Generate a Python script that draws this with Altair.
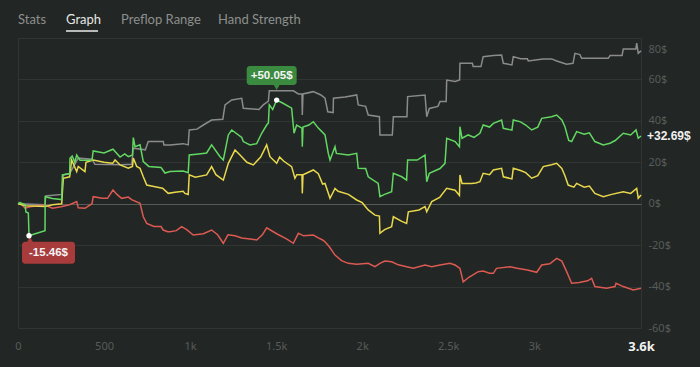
import altair as alt
import pandas as pd

# ---------------- data (hands, dollars) ----------------
gray_h = [0, 157, 161, 254, 263, 300, 350, 430, 447, 600, 661, 670, 740, 757, 844, 848, 883, 960, 989, 995,
          1040, 1077, 1125, 1190, 1203, 1242, 1300, 1309, 1400, 1425, 1455, 1460, 1600, 1629, 1650, 1652, 1656,
          1716, 1760, 1784, 1800, 1831, 1833, 1900, 1968, 1977, 2020, 2035, 2100, 2103, 2175, 2181, 2260, 2264,
          2365, 2375, 2390, 2440, 2452, 2488, 2491, 2540, 2566, 2568, 2640, 2645, 2690, 2703, 2762, 2810, 2820,
          2870, 2878, 2920, 2960, 2965, 3050, 3101, 3130, 3188, 3225, 3236, 3265, 3275, 3430, 3440, 3510, 3517,
          3590, 3595, 3604, 3620]
gray_v = [0, -0.5, 3.7, 4.5, 13.9, 14.5, 22, 21.5, 19, 18.8, 19, 26.8, 26, 30, 30, 28.4, 28.4, 29, 28.4, 35.6,
          36, 38, 40.4, 40.8, 47.7, 50.1, 50.9, 46.1, 45.5, 47.7, 49.5, 54.5, 54.5, 53, 53, 42.8, 53,
          54.1, 52.5, 50.9, 44.4, 44, 50.9, 51.5, 52.5, 47.7, 47, 42.8, 42, 33.2, 33.2, 42, 42, 51.7,
          52.5, 42, 46, 47, 49.3, 49.3, 59.7, 59, 59.7, 67.8, 67.8, 66.2, 66.2, 71, 71.5, 71.8, 67.8,
          67, 71, 70, 70, 68.9, 69.9, 69.9, 68.9, 67.3, 67.8, 72.6, 72, 70.2, 70.2, 71.5, 71.5, 74.7,
          74.7, 77.5, 72.6, 73.8]

green_h = [0, 12, 41, 46, 60, 64, 100, 157, 158, 200, 254, 258, 290, 300, 302, 315, 330, 341, 360, 430, 437,
           500, 552, 593, 620, 641, 665, 670, 680, 709, 728, 760, 831, 854, 883, 960, 989, 995, 1050, 1096,
           1125, 1174, 1193, 1222, 1242, 1300, 1309, 1348, 1387, 1416, 1445, 1455, 1460, 1480, 1503, 1540,
           1590, 1604, 1619, 1650, 1652, 1656, 1690, 1716, 1745, 1784, 1803, 1813, 1842, 1850, 1919, 1968,
           1977, 2020, 2035, 2093, 2103, 2130, 2171, 2181, 2230, 2258, 2264, 2320, 2365, 2375, 2390, 2452,
           2481, 2491, 2540, 2565, 2568, 2580, 2616, 2650, 2684, 2703, 2740, 2762, 2810, 2820, 2870, 2878,
           2920, 2950, 2985, 3020, 3043, 3100, 3130, 3160, 3178, 3191, 3200, 3217, 3246, 3290, 3320, 3352,
           3401, 3440, 3470, 3517, 3560, 3591, 3604, 3620]
green_v = [0, 0.5, -0.5, -4, -4.5, -15.46, -14.5, -13, 3.4, 2.5, 2, 13.9, 14.5, 14.3, 21.9, 23, 20, 23.5, 21, 21, 25.5,
           24.5, 26.3, 22.5, 24, 22.7, 23.5, 31.9, 27.5, 28.4, 20.3, 18, 17.5, 14.8, 15.5, 15.8, 15, 23.5, 24, 24.5,
           28.4, 22.7, 21.1, 33.2, 35.6, 32, 30, 28.4, 29, 34, 38, 39, 47.7, 45.5, 50.05, 48.5,
           46.1, 34, 38, 36.5, 27.5, 37, 38, 39.6, 36.5, 33.2, 24.3, 21.1, 27.5, 24.3, 23.5, 24.3,
           17.1, 17, 13, 9.8, 3.4, 4.5, 5.8, 14.7, 13, 11.4, 21.1, 21.1, 23.5, 10.6, 14.7, 17,
           19.5, 31.6, 30, 27.5, 37.2, 31.6, 33.2, 32, 34, 38, 37, 38.8, 40.4, 36.4, 35.5, 40.4,
           39.5, 38, 35.6, 37, 41.2, 42, 42.8, 40.4, 37.2, 33.2, 30.5, 30, 34.8, 33.5, 34.2, 30,
           28.4, 29.2, 30.5, 34, 33.2, 35.6, 31.6, 32.69]

yellow_h = [0, 46, 157, 200, 254, 263, 300, 312, 341, 350, 389, 395, 437, 500, 550, 564, 593, 641, 665, 670, 690,
            709, 728, 748, 796, 840, 873, 912, 960, 970, 989, 995, 1030, 1096, 1125, 1150, 1193, 1222, 1240, 1261,
            1290, 1330, 1367, 1410, 1445, 1464, 1503, 1520, 1545, 1590, 1609, 1620, 1650, 1652, 1656, 1716, 1745,
            1770, 1784, 1813, 1842, 1860, 1920, 1968, 2000, 2035, 2074, 2100, 2103, 2130, 2171, 2181, 2230, 2258,
            2268, 2330, 2365, 2375, 2404, 2450, 2491, 2540, 2565, 2568, 2580, 2636, 2660, 2684, 2703, 2740, 2762,
            2810, 2820, 2870, 2878, 2920, 2950, 2985, 3020, 3052, 3100, 3130, 3160, 3178, 3197, 3230, 3246, 3290,
            3320, 3352, 3401, 3450, 3517, 3560, 3595, 3604, 3620]
yellow_v = [0, -1, -1.4, -0.5, 0, 12.3, 13, 21.1, 15.5, 18, 15.5, 20, 21.1, 20, 19.5, 21.1, 18.7, 17.1, 18, 22, 18,
            17.1, 13, 9, 8.2, 7.5, 5, 5.5, 6, 5, 4.5, 13.9, 12.8, 13.9, 17.9, 14, 11.4, 19.5, 22.5, 25.9,
            23.5, 20, 18.7, 22.5, 28.4, 22.7, 19.5, 22.5, 20.5, 17.9, 12.3, 14, 14, 5, 14, 16.3, 14.5,
            9.5, 9.8, 2.6, 7.4, 6, 4.5, 1.8, 0.5, -3, -5.5, -6, -14.3, -12.5, -11.1, -6.3, -8.5, -9.5,
            -3.9, -3, -1.4, -3.9, 1, 3, 7.4, 6.5, 4, 13.9, 9.8, 9.8, 10, 10.6, 14.7, 14, 16.3,
            17.1, 13, 12, 17.1, 16, 15, 12.3, 13.5, 17.9, 18.8, 19.5, 17, 13.5, 9, 8, 9.8, 8,
            8.5, 5, 3.4, 4.5, 5.8, 5, 7.4, 2.6, 4.2]

red_h = [0, 12, 41, 70, 157, 200, 250, 300, 341, 350, 389, 430, 437, 490, 520, 552, 575, 602, 641, 660, 709, 728,
         748, 790, 831, 844, 870, 883, 920, 951, 980, 1018, 1077, 1125, 1160, 1193, 1220, 1261, 1300, 1387, 1420,
         1445, 1503, 1560, 1600, 1629, 1660, 1716, 1745, 1770, 1784, 1809, 1842, 1880, 1919, 1968, 2035, 2074,
         2103, 2132, 2171, 2210, 2258, 2297, 2365, 2404, 2452, 2510, 2540, 2568, 2587, 2620, 2674, 2703, 2740,
         2762, 2780, 2859, 2900, 2960, 3014, 3043, 3090, 3130, 3160, 3188, 3217, 3260, 3310, 3333, 3352, 3420,
         3469, 3475, 3517, 3575, 3620]
red_v = [0, 0.5, -2.2, -1.5, -0.6, -2.2, -1.5, -0.5, 1, -2, -2.2, 0, 3.4, 2.6, 2.6, 6.6, 4.5, 2.6, 3.2, 2, 0.2, -6.3,
         -9.5, -11, -11, -12.7, -13.5, -13.5, -13, -11.1, -12.5, -15.1, -14.5, -12.7, -15, -19.1, -15, -15.5, -16.5,
         -17.5, -15, -11.6, -14.5, -17, -19.1, -14.3, -15.5, -15.1, -16.5, -17.5, -18.4, -20.8, -24.8, -27.5,
         -28.8, -29.2, -28.8, -30.4, -28.8, -27.7, -28, -29.5, -30.4, -31.2, -29.6, -30.4, -29.6, -28.8, -29.6,
         -31.2, -37.7, -35.5, -32.8, -32.5, -33.6, -33.6, -31.2, -30.4, -31.2, -32, -33.1, -29.6, -29, -26.4,
         -27.7, -32.8, -38.4, -38, -37.2, -36, -40, -40.8, -40, -38.4, -40, -41.6, -40.8]

tabs = ["Stats", "Graph", "Preflop Range", "Hand Strength"]
y_ticks = [-60, -40, -20, 0, 20, 40, 60, 80]
x_ticks = [0, 500, 1000, 1500, 2000, 2500, 3000, 3620]
max_label = "+50.05$"
min_label = "-15.46$"
end_label = "+32.69$"

# ---------------- build ----------------
BG = "#222625"
GRID = "#303432"
LBL = "#575c59"

series = [("gray", gray_h, gray_v, "#8b8b8b"),
          ("red", red_h, red_v, "#dc5a52"),
          ("yellow", yellow_h, yellow_v, "#e8d84c"),
          ("green", green_h, green_v, "#62d862")]
rows = []
for name, hs, vs, _ in series:
    for i, (h, v) in enumerate(zip(hs, vs)):
        rows.append({"series": name, "h": h, "v": v, "i": i})
df = pd.DataFrame(rows)

xs = alt.Scale(domain=[0, 3620], nice=False, zero=False)
ys = alt.Scale(domain=[-60, 80], nice=False, zero=False)

x_axis = alt.Axis(values=x_ticks, grid=False, domain=False, ticks=False,
                  labelExpr="datum.value == 3620 ? '3.6k' : datum.value >= 1000 ? (datum.value/1000) + 'k' : datum.value",
                  labelColor={"condition": {"test": "datum.value == 3620", "value": "#f2f2f2"}, "value": LBL},
                  labelFontWeight={"condition": {"test": "datum.value == 3620", "value": "bold"}, "value": "normal"},
                  labelFontSize={"condition": {"test": "datum.value == 3620", "value": 13}, "value": 11},
                  labelFlush=False, labelPadding=12, title=None, labelFont="Noto Sans")
y_axis = alt.Axis(orient="right", values=y_ticks, domain=False, ticks=False,
                  labelExpr="datum.value + '$'", labelColor=LBL, labelFontSize=11, labelFont="Noto Sans",
                  labelPadding=7, labelAlign="left",
                  labelOffset={"condition": {"test": "datum.value == 80", "value": 11}, "value": 0},
                  gridColor={"condition": {"test": "datum.value == 0", "value": "#565b58"}, "value": GRID},
                  title=None)

layers = []
for name, hs, vs, col in series:
    layers.append(
        alt.Chart(df[df.series == name]).mark_line(strokeWidth=1.5, color=col).encode(
            x=alt.X("h:Q", scale=xs, axis=x_axis),
            y=alt.Y("v:Q", scale=ys, axis=y_axis),
            order="i:Q",
        )
    )

max_i = green_v.index(max(green_v))
min_i = green_v.index(min(green_v))
ann = pd.DataFrame({"h": [green_h[max_i], green_h[min_i]], "v": [green_v[max_i], green_v[min_i]]})
mx = ann.iloc[[0]]
mn = ann.iloc[[1]]

XE = alt.X("h:Q", scale=xs)
YE = alt.Y("v:Q", scale=ys)

max_box = alt.Chart(mx).mark_rect(color="#3a8a3f", cornerRadius=3, xOffset=-30, x2Offset=20,
                                  yOffset=-34, y2Offset=-15).encode(x=XE, x2="h:Q", y=YE, y2="v:Q")
max_tri = alt.Chart(mx).mark_point(shape="triangle-down", filled=True, opacity=1, color="#3a8a3f",
                                   size=45, yOffset=-13).encode(x=XE, y=YE)
max_txt = alt.Chart(mx).mark_text(text=max_label, color="#f4f4f4", fontWeight="bold", fontSize=11.5,
                                  font="Liberation Sans", dx=-5, dy=-24.5).encode(x=XE, y=YE)

min_box = alt.Chart(mn).mark_rect(color="#a83b3b", cornerRadius=3, xOffset=-7, x2Offset=46,
                                  yOffset=6, y2Offset=28).encode(x=XE, x2="h:Q", y=YE, y2="v:Q")
min_tri = alt.Chart(mn).mark_point(shape="triangle-up", filled=True, opacity=1, color="#a83b3b",
                                   size=45, xOffset=1, yOffset=4).encode(x=XE, y=YE)
min_txt = alt.Chart(mn).mark_text(text=min_label, color="#f4f4f4", fontWeight="bold", fontSize=11.5,
                                  font="Liberation Sans", dx=19.5, dy=17).encode(x=XE, y=YE)

dots = alt.Chart(ann).mark_circle(color="#ffffff", opacity=1, size=28).encode(x=XE, y=YE)

end_df = pd.DataFrame({"h": [green_h[-1]], "v": [green_v[-1]]})
end_txt = alt.Chart(end_df).mark_text(text=end_label, color="#f0f0f0", fontWeight="bold", fontSize=12,
                                      font="Liberation Sans", align="left", dx=6).encode(x=XE, y=YE)

# tabs header
tab_df = pd.DataFrame({"t": tabs, "px": [0, 48, 103, 200],
                       "c": ["#8c8f8d", "#e6e6e6", "#8c8f8d", "#8c8f8d"]})
tab_txt = alt.Chart(tab_df).mark_text(align="left", baseline="middle", fontSize=13, font="Lato").encode(
    x=alt.X("px:Q", scale=None), y=alt.value(-18), text="t:N",
    color=alt.Color("c:N", scale=None))
underline = alt.Chart(pd.DataFrame({"a": [0]})).mark_rule(color="#b8bab9", strokeWidth=2).encode(
    x=alt.value(48), x2=alt.value(80), y=alt.value(-7))

chart = alt.layer(*layers, max_box, max_tri, max_txt, min_box, min_tri, min_txt, dots, end_txt,
                  tab_txt, underline).properties(
    width=623, height=290,
    autosize=alt.AutoSizeParams(type="none"),
    padding={"left": 10, "top": 30, "right": 51, "bottom": 30},
    background=BG,
).configure_view(stroke=GRID, strokeWidth=1)

chart.save("out.html", embed_options={"renderer": "svg", "actions": False,
                                      "defaultStyle": ".vega-embed{position:relative;display:inline-block;box-sizing:border-box;} html,body{background:#222625;}"})
